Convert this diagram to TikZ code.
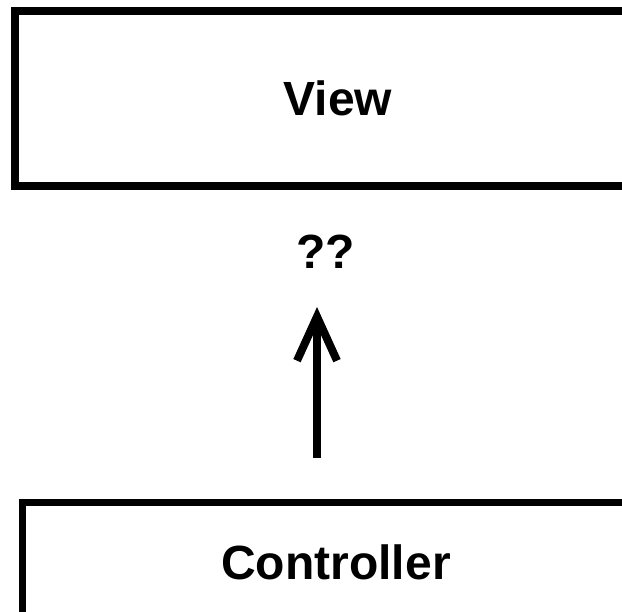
\documentclass[tikz,border=0pt]{standalone}
\usepackage{fontspec}
\setmainfont{Liberation Sans}
\usetikzlibrary{arrows.meta}
\tikzset{
  box/.style={draw=black, fill=white, line width=#1, inner sep=0pt, font=\bfseries\fontsize{48}{58}\selectfont},
  box/.default=8pt,
  label/.style={inner sep=0pt, font=\bfseries\fontsize{48}{58}\selectfont},
  link/.style={line width=8pt, -{Straight Barb[length=44pt, width=40pt, line cap=butt, line join=miter]}}
}
\begin{document}
\begin{tikzpicture}[x=1pt, y=-1pt]
  \useasboundingbox (0,0) rectangle (622,612);
  \clip (0,0) rectangle (622,612);
  \node[box=8pt, minimum width=646pt, minimum height=175pt] (view) at (338,98.5) {View};
  \node[box=7pt, minimum width=628pt, minimum height=119pt] (ctrl) at (336,562) {Controller};
  \node[label] (q) at (325.5,251.5) {??};
  \coordinate (from) at (317,458);
  \coordinate (to) at (317,307);
  \draw[link] (from) -- (to);
\end{tikzpicture}
\end{document}
